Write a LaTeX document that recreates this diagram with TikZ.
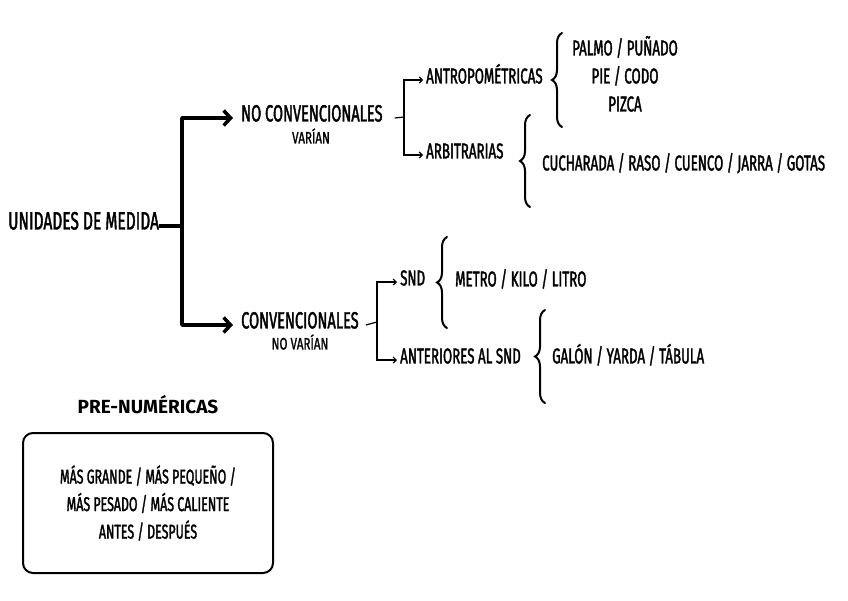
\documentclass[tikz,border=0pt]{standalone}
\usepackage{fontspec}
\setmainfont{Fira Sans}[FakeStretch=0.62, FakeBold=1.6]
\newfontfamily\smallfont{Fira Sans}[FakeStretch=0.7, FakeBold=1.2]
\newfontfamily\headfont{Fira Sans}[FakeStretch=1.0]
\usetikzlibrary{arrows.meta,decorations.pathreplacing}

\tikzset{
  lbl/.style={inner sep=0pt, text height=0.69em, text depth=0pt},
  big/.style={lbl, font=\fontsize{23.5}{27}\selectfont},
  mid/.style={lbl, font=\fontsize{21.5}{25}\selectfont},
  tiny/.style={lbl, font=\smallfont\fontsize{16.5}{19}\selectfont},
  bigarrow/.style={line width=3.5pt, line join=round, -{Straight Barb[length=7pt,width=15pt]}},
  thinline/.style={line width=1.2pt},
  thinarrow/.style={line width=1.2pt, -{Straight Barb[length=3pt,width=6pt]}},
  brc/.style={line width=2pt, line cap=round, decorate, decoration={brace, amplitude=10pt}}
}

\begin{document}
\begin{tikzpicture}[x=1pt,y=-1pt]
  \useasboundingbox (0,0) rectangle (848,600);

  % main branches
  \node (udm)[big, anchor=west, font=\fontsize{25}{28}\selectfont] at (8,226) {UNIDADES DE MEDIDA};
  \node (nc)[big, anchor=west] at (241,118) {NO CONVENCIONALES};
  \node (var)[tiny] at (311,140) {VARÍAN};
  \node (conv)[big, anchor=west] at (241,325) {CONVENCIONALES};
  \node (novar)[tiny] at (300,346) {NO VARÍAN};

  \coordinate (j1) at (182,226);
  \draw[line width=3.5pt] (udm.east) -- (j1);
  \draw[bigarrow, shorten >=8pt] (j1) |- (nc.west);
  \draw[bigarrow, shorten >=8pt] (j1) |- (conv.west);

  % no convencionales
  \node (antro)[mid, anchor=west] at (426,80) {ANTROPOMÉTRICAS};
  \node (arbi)[mid, anchor=west] at (426,155) {ARBITRARIAS};

  \coordinate (j2) at (404,117);
  \draw[thinline] ([xshift=12pt]nc.east) -- (j2);
  \draw[thinarrow, shorten >=3pt] (j2) |- (antro.west);
  \draw[thinarrow, shorten >=3pt] (j2) |- (arbi.west);

  \draw[brc] (562,127) -- (562,33);
  \node (palmo)[mid] at (625,52) {PALMO / PUÑADO};
  \node (pie)[mid] at (625,80) {PIE / CODO};
  \node (pizca)[mid] at (625,108) {PIZCA};

  \draw[brc] (530,207) -- (530,115);
  \node (cuch)[mid, anchor=west] at (542,167) {CUCHARADA / RASO / CUENCO / JARRA / GOTAS};

  % convencionales
  \node (snd)[mid, anchor=west] at (400,282) {SND};
  \node (ant)[mid, anchor=west] at (400,360) {ANTERIORES AL SND};

  \coordinate (j3) at (377,322);
  \draw[thinline] ([xshift=7pt]conv.east) -- (j3);
  \draw[thinarrow, shorten >=3pt] (j3) |- (snd.west);
  \draw[thinarrow, shorten >=3pt] (j3) |- (ant.west);

  \draw[brc] (447,328) -- (447,237);
  \node (metro)[mid, anchor=west] at (455,283) {METRO / KILO / LITRO};

  \draw[brc] (545,403) -- (545,310);
  \node (galon)[mid, anchor=west] at (552,360) {GALÓN / YARDA / TÁBULA};

  % pre-numericas
  \node (pre)[lbl, font=\headfont\bfseries\fontsize{19}{23}\selectfont] at (148,410) {PRE-NUMÉRICAS};
  \node (box)[draw, line width=2pt, rounded corners=10pt, minimum width=250pt, minimum height=140pt,
    align=center, font=\fontsize{20}{27.5}\selectfont] at (148,503) {MÁS GRANDE / MÁS PEQUEÑO /\\
    MÁS PESADO / MÁS CALIENTE\\ ANTES / DESPUÉS};
\end{tikzpicture}
\end{document}
